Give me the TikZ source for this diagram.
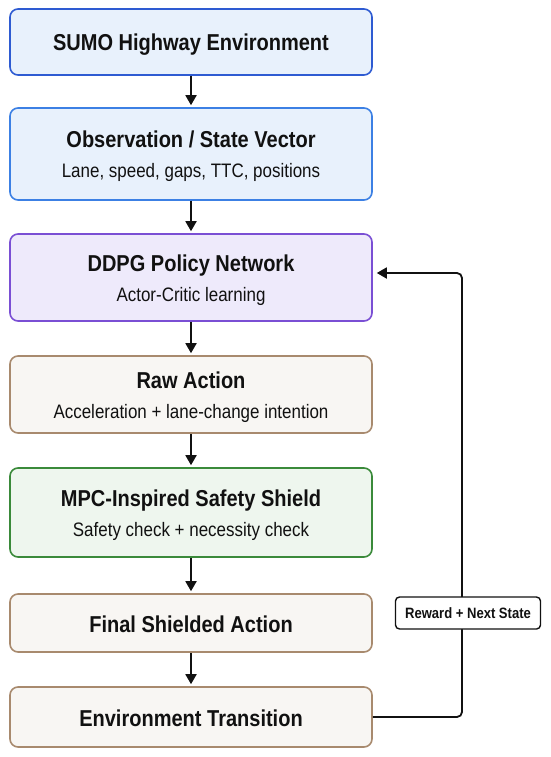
\documentclass[tikz,border=0pt]{standalone}
\usepackage{fontspec}
\setmainfont{Liberation Sans}[FakeStretch=0.87]
\usepackage{tikz}
\usetikzlibrary{arrows.meta}
\usepackage{xcolor}
\definecolor{envblue}{HTML}{2E5BD2}
\definecolor{obsblue}{HTML}{3C80E4}
\definecolor{bluefill}{HTML}{E8F1FC}
\definecolor{netpurple}{HTML}{7A4FD4}
\definecolor{purplefill}{HTML}{EEEAFB}
\definecolor{actbrown}{HTML}{A88A6E}
\definecolor{brownfill}{HTML}{F8F6F3}
\definecolor{shieldgreen}{HTML}{3A8A3A}
\definecolor{greenfill}{HTML}{EEF6EE}
\definecolor{ink}{HTML}{111111}
\newcommand{\boxtitle}{\fontsize{23}{28}\selectfont\bfseries\rule[-6pt]{0pt}{30pt}}
\newcommand{\boxnote}{\fontsize{19.5}{24}\selectfont\rule[-7pt]{0pt}{30pt}}

\begin{document}
\begin{tikzpicture}[x=1pt,y=-1pt,
    stage/.style={draw, line width=1.6pt, rounded corners=8pt, minimum width=362pt,
        align=center, text=ink, inner sep=0pt},
    flow/.style={line width=1.8pt, draw=ink, -{Triangle[width=11pt,length=10pt]}, shorten >=2pt},
    fblabel/.style={draw=ink, fill=white, line width=1.4pt, rounded corners=4pt,
        minimum width=145pt, minimum height=32pt, text=ink, inner sep=0pt,
        font=\fontsize{15}{18}\selectfont\bfseries}]
        \useasboundingbox (0,0) rectangle (550,757);
        % stages
        \node[stage, draw=envblue, fill=bluefill, minimum height=66pt] (env) at (191,42)
            {\boxtitle SUMO Highway Environment};
        \node[stage, draw=obsblue, fill=bluefill, minimum height=92pt] (obs) at (191,154)
            {\boxtitle Observation / State Vector\\ \boxnote Lane, speed, gaps, TTC, positions};
        \node[stage, draw=netpurple, fill=purplefill, minimum height=87pt] (ddpg) at (191,277.5)
            {\boxtitle DDPG Policy Network\\ \boxnote Actor-Critic learning};
        \node[stage, draw=actbrown, fill=brownfill, minimum height=77pt] (raw) at (191,394.5)
            {\boxtitle Raw Action\\ \boxnote Acceleration + lane-change intention};
        \node[stage, draw=shieldgreen, fill=greenfill, minimum height=89pt] (mpc) at (191,512.5)
            {\boxtitle MPC-Inspired Safety Shield\\ \boxnote Safety check + necessity check};
        \node[stage, draw=actbrown, fill=brownfill, minimum height=58pt] (final) at (191,623)
            {\boxtitle Final Shielded Action};
        \node[stage, draw=actbrown, fill=brownfill, minimum height=60pt] (trans) at (191,717)
            {\boxtitle Environment Transition};
        % main flow
        \draw[flow] (env) -- (obs);
        \draw[flow] (obs) -- (ddpg);
        \draw[flow] (ddpg) -- (raw);
        \draw[flow] (raw) -- (mpc);
        \draw[flow] (mpc) -- (final);
        \draw[flow] (final) -- (trans);
        % feedback loop
        \coordinate (fbtop) at (462,273);
        \draw[flow, rounded corners=5pt, shorten >=4pt] (trans.east) -| (fbtop) -- (fbtop -| ddpg.east);
        \node[fblabel] (fb) at (468,613) {Reward + Next State};
    \end{tikzpicture}
\end{document}
